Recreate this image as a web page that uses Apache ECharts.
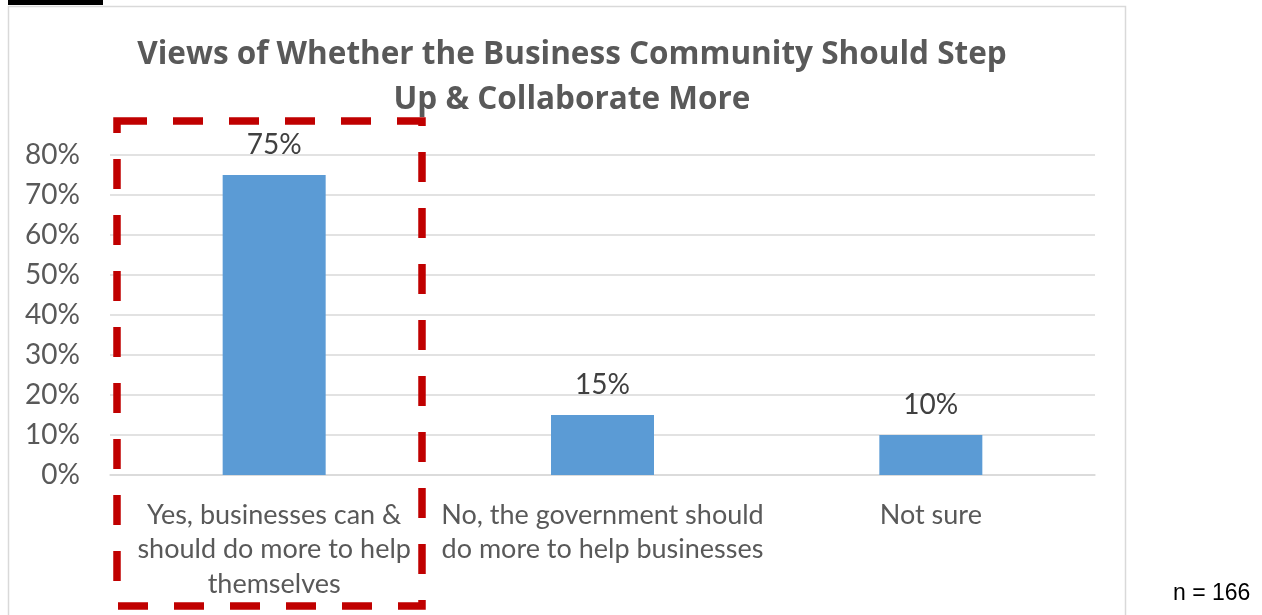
<!DOCTYPE html>
<html>
<head>
<meta charset="utf-8">
<script src="https://cdn.jsdelivr.net/npm/echarts@6/dist/echarts.min.js"></script>
<style>
  html, body { margin: 0; padding: 0; background: #ffffff; }
  #chart { width: 1262px; height: 615px; }
</style>
</head>
<body>
<div id="chart"></div>
<script>
// Survey answers (percent of respondents)
const categories = [
  'Yes, businesses can &\nshould do more to help\nthemselves',
  'No, the government should\ndo more to help businesses',
  'Not sure'
];
const shares = [75, 15, 10];
const yTicks = [0, 10, 20, 30, 40, 50, 60, 70, 80];
const titleText = 'Views of Whether the Business Community Should Step\nUp & Collaborate More';
const sampleNote = 'n = 166';

const chart = echarts.init(document.getElementById('chart'), null, { renderer: 'canvas' });
const grey = '#595959';
const font = 'Lato, "Open Sans", sans-serif';

const option = {
  backgroundColor: '#ffffff',
  animation: false,
  title: {
    text: titleText,
    left: 567,
    textAlign: 'center',
    top: 28,
    textStyle: {
      fontFamily: '"Open Sans", Lato, sans-serif',
      fontWeight: 'bold',
      fontSize: 31.5,
      lineHeight: 45,
      color: grey
    }
  },
  grid: { left: 110, right: 167, top: 155, bottom: 140 },
  xAxis: {
    type: 'category',
    data: categories,
    axisLine: { lineStyle: { color: '#d9d9d9', width: 1.5 } },
    axisTick: { show: false },
    axisLabel: {
      interval: 0,
      margin: 23,
      fontFamily: font,
      fontSize: 27,
      lineHeight: 34.5,
      color: grey
    }
  },
  yAxis: {
    type: 'value',
    min: yTicks[0],
    max: yTicks[yTicks.length - 1],
    interval: yTicks[1] - yTicks[0],
    axisLine: { show: false },
    axisTick: { show: false },
    splitLine: { lineStyle: { color: '#d9d9d9', width: 1.5 } },
    axisLabel: {
      margin: 30,
      fontFamily: font,
      fontSize: 28,
      color: grey,
      formatter: '{value}%'
    }
  },
  series: [{
    type: 'bar',
    data: shares,
    barWidth: 103,
    itemStyle: { color: '#5b9bd5' },
    label: {
      show: true,
      position: 'top',
      distance: 16,
      fontFamily: font,
      fontSize: 28,
      color: '#404040',
      formatter: p => p.value + '%'
    }
  }],
  graphic: [
    // outer chart frame
    {
      type: 'rect',
      shape: { x: 8.5, y: 6.5, width: 1117, height: 640 },
      style: { fill: 'none', stroke: '#d9d9d9', lineWidth: 1.5 },
      silent: true
    },
    // caption rule above the frame
    {
      type: 'rect',
      shape: { x: 8, y: 0, width: 95, height: 5 },
      style: { fill: '#000000' },
      silent: true
    },
    // highlight box around the first answer
    {
      type: 'rect',
      shape: { x: 117, y: 121, width: 305, height: 485 },
      style: {
        fill: 'none',
        stroke: '#c00000',
        lineWidth: 7.5,
        lineDash: [30, 26]
      },
      z: 10,
      silent: true
    },
    {
      type: 'text',
      left: 1173,
      top: 582,
      style: {
        text: sampleNote,
        fontFamily: '"Liberation Sans", Arial, sans-serif',
        fontSize: 23,
        fill: '#000000'
      },
      silent: true
    }
  ]
};

chart.setOption(option);
</script>
</body>
</html>
